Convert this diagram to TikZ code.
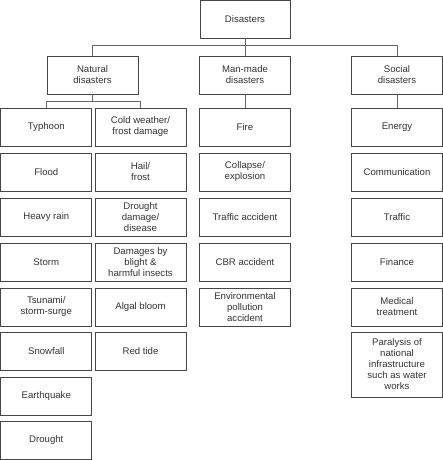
\documentclass[tikz,border=0pt]{standalone}
\usepackage{fontspec}
\setmainfont{Liberation Sans}
\begin{document}
\begin{tikzpicture}[x=1pt,y=-1pt,
  box/.style={draw=black!72, line width=0.9pt, rectangle, minimum width=91pt, minimum height=38pt, inner sep=0pt, align=center, text=black!80, font=\fontsize{9.6}{11}\selectfont},
  conn/.style={draw=black!60, line width=0.9pt}]
\useasboundingbox (0,0) rectangle (443,460);
% level 0
\node[box, minimum width=90pt] (dis) at (245,19) {Disasters};
% level 1
\node[box] (nat) at (92.5,75) {Natural\\disasters};
\node[box] (man) at (245,75) {Man-made\\disasters};
\node[box] (soc) at (397,75) {Social\\disasters};
% natural col 1
\node[box] (n1) at (46.3,127) {Typhoon};
\node[box] (n2) at (46.3,172) {Flood};
\node[box] (n3) at (46.3,217) {Heavy rain};
\node[box] (n4) at (46.3,262) {Storm};
\node[box] (n5) at (46.3,307) {Tsunami/\\storm-surge};
\node[box] (n6) at (46.3,351) {Snowfall};
\node[box] (n7) at (46.3,396) {Earthquake};
\node[box] (n8) at (46.3,440.5) {Drought};
% natural col 2
\node[box] (c1) at (140.5,127) {Cold weather/\\frost damage};
\node[box] (c2) at (140.5,172) {Hail/\\frost};
\node[box] (c3) at (140.5,217) {Drought\\damage/\\disease};
\node[box] (c4) at (140.5,262) {Damages by\\blight \&\\harmful insects};
\node[box] (c5) at (140.5,307) {Algal bloom};
\node[box] (c6) at (140.5,351) {Red tide};
% man-made
\node[box] (m1) at (245,127) {Fire};
\node[box] (m2) at (245,172) {Collapse/\\explosion};
\node[box] (m3) at (245,217) {Traffic accident};
\node[box] (m4) at (245,262) {CBR accident};
\node[box] (m5) at (245,307) {Environmental\\pollution\\accident};
% social
\node[box] (s1) at (397,127) {Energy};
\node[box] (s2) at (397,172) {Communication};
\node[box] (s3) at (397,217) {Traffic};
\node[box] (s4) at (397,262) {Finance};
\node[box] (s5) at (397,307) {Medical\\treatment};
\node[box, minimum height=65pt] (s6) at (397,364.5) {Paralysis of\\national\\infrastructure\\such as water\\works};
% connectors
\coordinate (j1) at (245,45);
\coordinate (j2) at (92.5,101);
\draw[conn] (dis.south) -- (j1);
\draw[conn] (j1) -| (nat.north);
\draw[conn] (j1) -| (soc.north);
\draw[conn] (j1) -- (man.north);
\draw[conn] (nat.south) -- (j2);
\draw[conn] (j2) -| (n1.north);
\draw[conn] (j2) -| (c1.north);
\draw[conn] (man.south) -- (m1.north);
\draw[conn] (soc.south) -- (s1.north);
\end{tikzpicture}
\end{document}
